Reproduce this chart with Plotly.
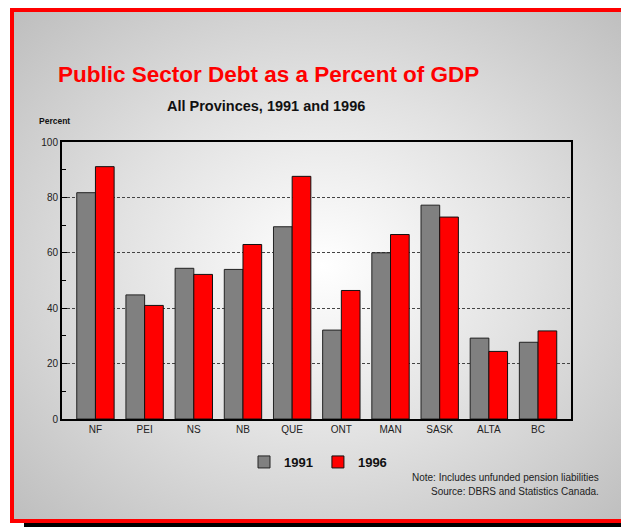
import base64
import plotly.graph_objects as go

provinces = ["NF", "PEI", "NS", "NB", "QUE", "ONT", "MAN", "SASK", "ALTA", "BC"]
debt_1991 = [81.7, 44.8, 54.4, 54.0, 69.4, 32.1, 60.0, 77.2, 29.2, 27.7]
debt_1996 = [91.1, 41.0, 52.2, 63.0, 87.6, 46.4, 66.6, 72.9, 24.4, 31.8]
y_ticks = [0, 20, 40, 60, 80, 100]

W, H = 621, 527
L, R, T, B = 62, 50, 142, 108
PW, PH = W - L - R, H - T - B

def px(x):
    return (x - L) / PW

def py(y):
    return (H - B - y) / PH

FONT = "Liberation Sans, Arial, sans-serif"

svg = """<svg xmlns='http://www.w3.org/2000/svg' width='609' height='511' viewBox='0 0 609 511' preserveAspectRatio='none'>
<defs><radialGradient id='g' cx='0.51' cy='0.5' r='0.75' fx='0.51' fy='0.5'>
<stop offset='0' stop-color='#ffffff'/><stop offset='0.45' stop-color='#e2e2e2'/><stop offset='1' stop-color='#bababa'/>
</radialGradient></defs><rect width='609' height='511' fill='url(#g)'/></svg>"""
bg_src = "data:image/svg+xml;base64," + base64.b64encode(svg.encode()).decode()

fig = go.Figure()
fig.add_trace(go.Bar(x=provinces, y=debt_1991, name="1991",
                     marker=dict(color="#808080", line=dict(color="#222222", width=1))))
fig.add_trace(go.Bar(x=provinces, y=debt_1996, name="1996",
                     marker=dict(color="#ff0000", line=dict(color="#111111", width=1))))

red = dict(color="#ff0000", width=4)
fig.update_layout(
    width=W, height=H,
    margin=dict(l=L, r=R, t=T, b=B, autoexpand=False),
    paper_bgcolor="white",
    plot_bgcolor="rgba(0,0,0,0)",
    barmode="group", bargap=0.24, bargroupgap=0,
    font=dict(family=FONT, color="#222222", size=10),
    showlegend=True,
    legend=dict(orientation="h", x=px(318), xanchor="center", y=py(462), yanchor="middle",
                font=dict(family=FONT, size=13, color="#111111", weight="bold"),
                bgcolor="rgba(0,0,0,0)", itemwidth=30, traceorder="normal"),
    xaxis=dict(range=[-0.68, 9.67], showline=True, linecolor="black", linewidth=2, mirror=True,
               ticks="", showgrid=False, tickfont=dict(size=10, color="#222222")),
    yaxis=dict(range=[0, 100], tickvals=y_ticks, showline=True, linecolor="black", linewidth=2,
               mirror=True, ticks="inside", ticklen=5, tickcolor="black",
               minor=dict(ticks="inside", dtick=10, ticklen=4, tickcolor="black", showgrid=False),
               showgrid=True, gridcolor="#444444", griddash="3px,2px", gridwidth=1,
               zeroline=False, tickfont=dict(size=10, color="#222222")),
    images=[dict(source=bg_src, xref="paper", yref="paper", x=px(12), y=py(10),
                 sizex=px(621) - px(12), sizey=py(10) - py(521), sizing="stretch",
                 xanchor="left", yanchor="top", layer="below")],
    shapes=[
        dict(type="rect", xref="paper", yref="paper", x0=px(24), x1=px(621), y0=py(527), y1=py(522),
             fillcolor="black", line=dict(width=0), layer="below"),
        dict(type="line", xref="paper", yref="paper", x0=px(10), x1=px(621), y0=py(10), y1=py(10),
             line=red, layer="above"),
        dict(type="line", xref="paper", yref="paper", x0=px(10), x1=px(621), y0=py(521), y1=py(521),
             line=red, layer="above"),
        dict(type="line", xref="paper", yref="paper", x0=px(12), x1=px(12), y0=py(8), y1=py(523),
             line=red, layer="above"),
    ],
    annotations=[
        dict(text="Public Sector Debt as a Percent of GDP", xref="paper", yref="paper",
             x=px(268), y=py(74), xanchor="center", yanchor="middle", showarrow=False,
             font=dict(family=FONT, size=22.5, color="#ff0000", weight="bold")),
        dict(text="All Provinces, 1991 and 1996", xref="paper", yref="paper",
             x=px(266), y=py(106), xanchor="center", yanchor="middle", showarrow=False,
             font=dict(family=FONT, size=14.5, color="#111111", weight="bold")),
        dict(text="Percent", xref="paper", yref="paper", x=px(37), y=py(121),
             xanchor="left", yanchor="middle", showarrow=False,
             font=dict(family=FONT, size=8.5, color="#111111", weight="bold")),
        dict(text="Note: Includes unfunded pension liabilities", xref="paper", yref="paper",
             x=px(601), y=py(477), xanchor="right", yanchor="middle", showarrow=False,
             font=dict(family=FONT, size=10, color="#222222")),
        dict(text="Source: DBRS and Statistics Canada.", xref="paper", yref="paper",
             x=px(601), y=py(491), xanchor="right", yanchor="middle", showarrow=False,
             font=dict(family=FONT, size=10, color="#222222")),
    ],
)

fig.write_html("out.html", config={"displayModeBar": False},
               post_script="document.body.style.margin='0';document.body.style.overflow='hidden';")
